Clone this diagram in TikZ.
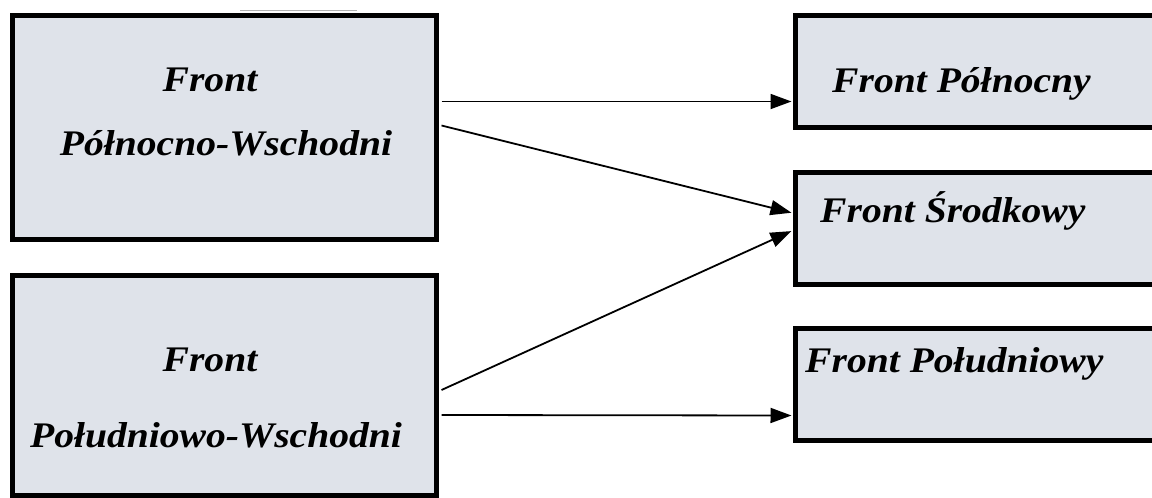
\documentclass[tikz,border=0pt]{standalone}
\usepackage{fontspec}
\setmainfont{Liberation Serif}
\usetikzlibrary{arrows.meta}
\definecolor{boxfill}{HTML}{DFE3EA}
\newcommand{\wide}[1]{\scalebox{1.1}[1]{#1}}
\tikzset{
  frontbox/.style={draw=black, fill=boxfill, line width=5pt, rectangle, inner sep=0pt},
  label/.style={font=\fontsize{36}{42}\selectfont\bfseries\itshape, inner sep=0pt, anchor=base},
  link/.style={line width=1.8pt, -{Triangle[length=21pt,width=15pt]}, shorten >=-1pt}
}
\begin{document}
\begin{tikzpicture}[x=1pt,y=-1pt]
\useasboundingbox (0,0) rectangle (1152,498);
\clip (0,0) rectangle (1152,498);
% scan artifact
\draw[gray!60, line width=0.8pt] (240,10) -- (357,10);
% boxes
\node[frontbox, minimum width=424pt, minimum height=224pt] (ne) at (224.5,127) {};
\node[frontbox, minimum width=424pt, minimum height=220pt] (se) at (224.5,385.5) {};
\node[frontbox, minimum width=400pt, minimum height=112pt] (n) at (995.5,71.5) {};
\node[frontbox, minimum width=400pt, minimum height=112pt] (c) at (995.5,228.5) {};
\node[frontbox, minimum width=400pt, minimum height=112pt] (s) at (995.5,384.5) {};
% texts
\node[label] (t1) at (210,91) {\wide{Front}};
\node[label] (t2) at (226,155) {\wide{Północno-Wschodni}};
\node[label] (t3) at (210,371) {\wide{Front}};
\node[label] (t4) at (216,447) {\wide{Południowo-Wschodni}};
\node[label, anchor=base west] (t5) at (832,92) {\wide{Front Północny}};
\node[label, anchor=base west] (t6) at (820,222) {\wide{Front Środkowy}};
\node[label, anchor=base west] (t7) at (805,372) {\wide{Front Południowy}};
% connectors
\coordinate (a1) at ([yshift=-89pt]ne.north east);
\coordinate (a2) at ([yshift=-113pt]ne.north east);
\coordinate (b1) at ([yshift=-117pt]se.north east);
\coordinate (b2) at ([yshift=-142pt]se.north east);
\coordinate (p1) at ([yshift=-88.5pt]n.north west);
\coordinate (p2) at ([yshift=-42.5pt]c.north west);
\coordinate (p3) at ([yshift=-61.5pt]c.north west);
\coordinate (p4) at ([yshift=-89.5pt]s.north west);
\draw[link] ([xshift=2.5pt]a1) -- ([xshift=-2.5pt]p1);
\draw[link] ([xshift=2.5pt]a2) -- ([xshift=-2.5pt]p2);
\draw[link] ([xshift=2.5pt]b1) -- ([xshift=-2.5pt]p3);
\draw[link] ([xshift=2.5pt]b2) -- ([xshift=-2.5pt]p4);
\end{tikzpicture}
\end{document}
